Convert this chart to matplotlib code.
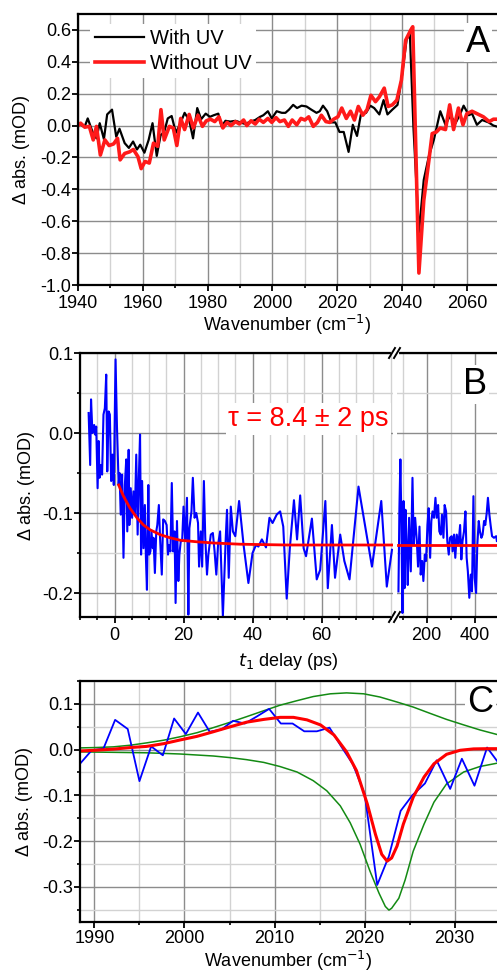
import numpy as np
import matplotlib.pyplot as plt
from matplotlib.ticker import MultipleLocator, FixedLocator

plt.rcParams["font.family"] = ["Liberation Sans", "DejaVu Sans"]
plt.rcParams["axes.unicode_minus"] = False
plt.rcParams["font.size"] = 13

# ---- panel A: spectra with / without UV ----
a_wn_uv = [1939.4, 1940.6, 1942, 1943, 1944.5, 1945.7, 1946.7, 1948, 1949, 1950.5,
           1951.8, 1952.8, 1954.4, 1955.7, 1957, 1958.2, 1959.2, 1960.5, 1961.8, 1963,
           1964.3, 1965.5, 1966.6, 1967.7, 1968.9, 1970.2, 1971.4, 1972.9, 1974.3, 1975.5,
           1976.8, 1978, 1979.4, 1980.7, 1981.9, 1983.3, 1984.3, 1985.5, 1987, 1988.6,
           1990.1, 1991.6, 1993.2, 1994.7, 1996.2, 1997.2, 1998.6, 1999.8, 2001.3, 2002.9,
           2004, 2005.1, 2006.4, 2007.6, 2009, 2010.5, 2012, 2013.6, 2014.6, 2015.6,
           2016.9, 2018.2, 2019.4, 2020.7, 2022, 2023.5, 2024.8, 2026.1, 2027.3, 2028.9,
           2030.2, 2031.4, 2033, 2034.3, 2035.5, 2037, 2038.6, 2040.1, 2041.4, 2042.4,
           2043.5, 2045.2, 2046.7, 2048.3, 2049.8, 2051.8, 2053.4, 2054.9, 2056.5, 2058,
           2059, 2060.6, 2061.6, 2063.1, 2064.7, 2066.7, 2068.2, 2070]
a_with_uv = [-0.01, 0.01, -0.01, 0.045, -0.04, -0.08, 0.015, -0.085, 0.07, 0.1,
             -0.07, -0.02, -0.11, -0.14, -0.1, -0.15, -0.12, -0.17, -0.09, 0.015,
             -0.19, -0.06, -0.04, 0.045, 0.06, -0.045, 0.005, 0.08, 0.035, -0.08,
             0.11, 0.04, 0.075, 0.055, 0.065, 0.075, -0.005, 0.03, 0.025, 0.03,
             0.02, 0.01, 0.025, 0.035, 0.055, 0.065, 0.09, 0.045, 0.09, 0.08,
             0.08, 0.1, 0.13, 0.11, 0.125, 0.12, 0.1, 0.08, 0.09, 0.125,
             0.09, 0.02, 0.02, -0.04, -0.04, -0.165, 0.005, -0.065, 0.07, 0.08,
             0.125, 0.11, 0.07, 0.16, 0.07, 0.1, 0.13, 0.33, 0.54, 0.58,
             -0.005, -0.67, -0.34, -0.19, -0.09, 0.09, 0.005, 0.065, 0.015, 0.075,
             0.125, 0.065, 0.075, 0.005, 0.035, 0.02, 0.0, -0.01]

a_wn_nouv = [1939.4, 1940.8, 1942.1, 1943.5, 1944.7, 1945.7, 1946.9, 1948.3, 1949.6, 1951,
             1952.2, 1953, 1954.4, 1955.9, 1957.1, 1958.5, 1959.5, 1960.7, 1962, 1963.3,
             1964.6, 1965.6, 1966.6, 1968.2, 1969.4, 1970.5, 1971.7, 1972.9, 1974.3, 1975.6,
             1977, 1978.4, 1979.6, 1980.9, 1982.2, 1983.5, 1984.7, 1986, 1987.2, 1988.6,
             1989.8, 1991.1, 1992.1, 1993.4, 1994.7, 1995.9, 1997.2, 1998.6, 1999.8, 2001.1,
             2002.3, 2003.7, 2004.9, 2006.1, 2007.5, 2008.8, 2010, 2011.2, 2012.6, 2013.9,
             2015.1, 2016.5, 2017.7, 2018.9, 2020.2, 2021.4, 2022.8, 2024.1, 2025.3, 2026.5,
             2027.9, 2029.2, 2030.4, 2031.8, 2033, 2034.5, 2035.7, 2037, 2038.4, 2039.8,
             2041.1, 2042.7, 2043.3, 2045.2, 2046.7, 2048.3, 2049.3, 2050.6, 2051.8, 2053.4,
             2054.7, 2055.9, 2057.4, 2058.8, 2060, 2061.6, 2063.1, 2065.1, 2066.9, 2068.2,
             2070]
a_without_uv = [-0.01, 0.015, -0.01, -0.005, -0.09, -0.005, -0.185, -0.09, -0.125, -0.115,
                -0.08, -0.215, -0.175, -0.165, -0.15, -0.195, -0.27, -0.225, -0.235, -0.11,
                -0.13, 0.1, -0.09, -0.005, -0.015, -0.125, 0.045, -0.025, 0.07, -0.015,
                0.065, -0.005, 0.03, 0.04, 0.025, 0.055, -0.015, 0.02, 0.0, 0.025,
                0.01, 0.035, 0.0, 0.03, 0.01, 0.04, 0.02, 0.045, 0.02, 0.05,
                0.025, 0.035, -0.005, 0.035, 0.005, 0.045, 0.035, 0.055, -0.005, 0.02,
                0.065, 0.025, 0.02, 0.04, 0.055, 0.11, 0.045, 0.09, 0.035, 0.12,
                0.065, 0.1, 0.19, 0.15, 0.18, 0.235, 0.12, 0.13, 0.16, 0.285,
                0.535, 0.6, 0.62, -0.925, -0.47, -0.215, -0.05, -0.04, -0.015, -0.025,
                0.13, -0.025, 0.11, 0.005, 0.075, 0.09, 0.075, 0.055, 0.025, 0.04,
                0.04]

# ---- panel B: kinetics ----
b_t = [-7.5, -7.05, -6.8, -6.4, -5.9, -5.6, -5.3, -4.9, -4.6, -4.35,
       -3.9, -3.6, -3.2, -2.8, -2.4, -2.1, -1.7, -1.35, -0.97, -0.6,
       -0.2, 0.3, 0.7, 1.2, 1.45, 1.8, 2.2, 2.6, 3.0, 3.4,
       3.7, 4.1, 4.3, 4.7, 5.1, 5.5, 5.9, 6.3, 6.7, 7.05,
       7.4, 7.7, 8.0, 8.4, 8.8, 9.1, 9.4, 9.8, 10.05, 10.4,
       10.7, 11.1, 11.3, 11.7, 12.1, 12.4, 12.85, 13.2, 13.7, 14.1,
       14.6, 15.1, 15.5, 15.8, 16.2, 16.6, 17.0, 17.4, 17.7, 18.1,
       18.5, 18.8, 19.2, 19.6, 20.0, 20.5, 21.0, 21.4, 21.7, 22.3,
       22.7, 23.2, 23.7, 24.2, 24.5, 25.0, 25.4, 25.9, 26.3, 26.8,
       27.2, 27.9, 28.5, 29.0, 29.5, 30.0, 30.6, 31.4, 32.2, 32.6,
       33.1, 33.7, 34.3, 35.0, 36.1, 37.4, 38.8, 40.0, 41.0, 41.7,
       42.7, 43.9, 44.9, 45.8, 47.0, 48.0, 48.9, 49.9, 50.8, 52.0,
       52.9, 53.8, 54.8, 55.5, 57.2, 58.6, 59.6, 61.1, 61.8, 63.0,
       63.9, 65.4, 66.6, 68.1, 70.7, 74.6, 77.3, 78.9, 80.4]
b_signal = [0.025, -0.04, 0.042, 0.0, 0.01, -0.002, 0.008, -0.069, -0.01, -0.056,
            -0.04, -0.052, 0.023, 0.031, 0.073, -0.048, 0.027, 0.023, -0.06, -0.027,
            -0.065, 0.092, 0.01, -0.065, -0.05, -0.102, -0.052, -0.156, -0.065, -0.033,
            -0.123, -0.021, -0.115, -0.069, -0.106, -0.073, -0.102, -0.027, -0.127, -0.056,
            -0.002, -0.152, -0.06, -0.144, -0.09, -0.156, -0.196, -0.065, -0.152, -0.148,
            -0.123, -0.144, -0.131, -0.175, -0.123, -0.115, -0.09, -0.131, -0.177, -0.108,
            -0.11, -0.115, -0.152, -0.14, -0.148, -0.0625, -0.148, -0.123, -0.2125, -0.11,
            -0.185, -0.152, -0.135, -0.135, -0.092, -0.135, -0.081, -0.227, -0.119, -0.098,
            -0.056, -0.106, -0.1, -0.1125, -0.167, -0.123, -0.167, -0.06, -0.131, -0.177,
            -0.152, -0.127, -0.125, -0.148, -0.177, -0.14, -0.123, -0.229, -0.135, -0.096,
            -0.181, -0.092, -0.123, -0.129, -0.085, -0.14, -0.1875, -0.15, -0.14, -0.142,
            -0.133, -0.143, -0.106, -0.1125, -0.102, -0.098, -0.117, -0.207, -0.144, -0.084,
            -0.133, -0.078, -0.144, -0.154, -0.107, -0.183, -0.171, -0.085, -0.194, -0.115,
            -0.181, -0.127, -0.16, -0.183, -0.067, -0.167, -0.085, -0.192, -0.146]

b_t_late = [83, 87, 91, 95, 99.5, 104, 108, 112, 117, 121.5,
            127, 134, 141, 146, 152, 159, 164, 170, 175, 181,
            186, 192, 197, 203, 208, 214, 219, 224, 230, 236,
            241, 247, 252, 258, 263, 269, 274, 280, 285, 291,
            296, 303, 307, 313, 318, 324, 331, 338, 343, 348,
            354, 360, 365, 370, 376, 382, 387, 393, 398, 404,
            409, 415, 420, 426, 431, 437, 442, 448, 453, 459,
            464, 470, 478, 487, 490]
b_signal_late = [-0.198, -0.094, -0.033, -0.11, -0.225, -0.085, -0.194, -0.096, -0.14, -0.19,
                 -0.106, -0.173, -0.056, -0.14, -0.106, -0.135, -0.167, -0.117, -0.177, -0.16,
                 -0.185, -0.152, -0.16, -0.115, -0.094, -0.156, -0.11, -0.098, -0.106, -0.081,
                 -0.106, -0.09, -0.123, -0.127, -0.102, -0.131, -0.09, -0.098, -0.135, -0.152,
                 -0.131, -0.129, -0.148, -0.127, -0.156, -0.127, -0.14, -0.115, -0.158, -0.135,
                 -0.123, -0.098, -0.156, -0.173, -0.206, -0.177, -0.198, -0.079, -0.181, -0.2,
                 -0.14, -0.11, -0.123, -0.131, -0.127, -0.11, -0.115, -0.1, -0.081, -0.102,
                 -0.115, -0.129, -0.131, -0.129, -0.135]

b_fit_t = [1.2, 2.6, 4.5, 6.5, 8.4, 10.3, 13.2, 16.1, 19.0, 23.9, 28.7, 36.4, 50, 80.4]
b_fit = [-0.065, -0.079, -0.094, -0.106, -0.115, -0.121, -0.127, -0.131, -0.134, -0.136,
         -0.1375, -0.139, -0.14, -0.14]
b_fit_late_t = [83, 490]
b_fit_late = [-0.14, -0.14]

b_major_ticks = [0, 20, 40, 60]

# ---- panel C: spectrum with fit components ----
c_wn = [1988.4, 1989.7, 1991.0, 1992.3, 1993.7, 1995.0, 1996.3, 1997.6, 1998.85, 2000.15,
        2001.5, 2002.8, 2004.1, 2005.4, 2006.7, 2008.0, 2009.4, 2010.7, 2012.0, 2013.3,
        2014.7, 2016.1, 2017.4, 2018.7, 2020.0, 2021.4, 2022.7, 2024.0, 2025.3, 2026.7,
        2028.0, 2029.5, 2030.8, 2032.2, 2033.6, 2034.9]
c_signal = [-0.031, -0.0015, 0.002, 0.065, 0.045, -0.069, 0.007, -0.0125, 0.068, 0.034,
            0.081, 0.039, 0.044, 0.063, 0.057, 0.072, 0.089, 0.057, 0.057, 0.04,
            0.04, 0.048, 0.007, -0.032, -0.097, -0.296, -0.233, -0.134, -0.1, -0.074,
            -0.0235, -0.086, -0.02, -0.079, 0.0045, -0.03]

c_fit_wn = [1988.4, 1990, 1992.1, 1994, 1995.8, 1997.7, 1999.5, 2001.4, 2003.2, 2005.1,
            2006.9, 2008.8, 2010.6, 2012.1, 2013.6, 2015.1, 2016.6, 2018.0, 2019.1, 2020.3,
            2021.2, 2021.9, 2022.5, 2023.0, 2023.6, 2024.3, 2025.4, 2026.6, 2027.7, 2029.1,
            2030.6, 2032.1, 2033.6, 2034.9]
c_fit = [-0.003, -0.0015, 0.001, 0.0045, 0.007, 0.013, 0.021, 0.029, 0.039, 0.05,
         0.06, 0.066, 0.0705, 0.0705, 0.065, 0.054, 0.032, -0.005, -0.046, -0.119,
         -0.185, -0.229, -0.244, -0.237, -0.211, -0.163, -0.104, -0.06, -0.031, -0.0103,
         -0.0015, 0.0015, 0.002, 0.002]

c_pos_wn = [1988.4, 1990, 1992.1, 1994, 1995.8, 1997.7, 1999.5, 2001.4, 2003.2, 2005.1,
            2006.9, 2008.8, 2010.6, 2012.5, 2014.3, 2016.2, 2018.0, 2019.9, 2021.7, 2023.6,
            2025.4, 2027.3, 2029.1, 2031.0, 2032.8, 2034.9]
c_pos = [0.0037, 0.0044, 0.006, 0.0096, 0.0147, 0.0206, 0.028, 0.037, 0.048, 0.06,
         0.072, 0.085, 0.097, 0.107, 0.116, 0.122, 0.124, 0.122, 0.115, 0.104,
         0.093, 0.079, 0.066, 0.054, 0.043, 0.032]

c_neg_wn = [1988.4, 1992.1, 1995.8, 1999.5, 2003.2, 2005.1, 2006.9, 2008.8, 2010.6, 2012.5,
            2014.3, 2015.8, 2017.3, 2018.4, 2019.5, 2020.6, 2021.6, 2022.3, 2022.7, 2023.0,
            2023.8, 2024.5, 2025.4, 2026.6, 2027.7, 2029.1, 2031.0, 2032.8, 2034.9]
c_neg = [-0.005, -0.006, -0.007, -0.0096, -0.014, -0.0176, -0.022, -0.028, -0.037, -0.049,
         -0.068, -0.09, -0.123, -0.16, -0.207, -0.266, -0.314, -0.343, -0.351, -0.347,
         -0.325, -0.285, -0.222, -0.163, -0.115, -0.075, -0.049, -0.037, -0.029]

MAJ = "#8c8c8c"
MIN = "#d2d2d2"


def style(ax, left=True):
    ax.grid(True, which="major", color=MAJ, lw=1.0)
    ax.grid(True, which="minor", color=MIN, lw=1.0)
    ax.set_axisbelow(True)
    for s in ["top", "bottom", "left"]:
        ax.spines[s].set_linewidth(1.6)
    ax.spines["right"].set_visible(False)
    if not left:
        ax.spines["left"].set_visible(False)
    ax.tick_params(which="major", direction="out", length=4, width=1.3,
                   labelsize=13, top=False, right=False, left=left, labelleft=left)
    ax.tick_params(which="minor", direction="out", length=2.5, width=1.2,
                   top=False, right=False, left=left)
    ax.tick_params(axis="x", which="major", pad=3)
    ax.tick_params(axis="y", which="major", pad=1)


def letter(ax, s, x, y):
    ax.text(x, y, s, transform=ax.transAxes, fontsize=26, ha="center", va="center",
            bbox=dict(facecolor="white", edgecolor="none", pad=1.5), zorder=5)


fig = plt.figure(figsize=(4.97, 9.72), dpi=100)
W, H = 497.0, 972.0

# Panel A
axA = fig.add_axes([78 / W, 1 - 285 / H, 1 - 78 / W, (285 - 14) / H])
axA.plot(a_wn_uv, a_with_uv, color="black", lw=1.6, label="With UV")
axA.plot(a_wn_nouv, a_without_uv, color="#ff1a1a", lw=2.6, label="Without UV")
axA.set_xlim(1940, 2069.3)
axA.set_ylim(-1.0, 0.7)
axA.xaxis.set_major_locator(MultipleLocator(20))
axA.xaxis.set_minor_locator(MultipleLocator(10))
axA.yaxis.set_major_locator(MultipleLocator(0.2))
axA.yaxis.set_major_formatter(plt.FormatStrFormatter("%.1f"))
style(axA)
axA.grid(False, which="minor", axis="y")
axA.set_ylabel("Δ abs. (mOD)")
axA.yaxis.set_label_coords(-0.115, 0.5)
leg = axA.legend(loc="upper left", bbox_to_anchor=(0.005, 1.0), frameon=True,
                 fancybox=False, edgecolor="none", framealpha=1, fontsize=14.5,
                 handlelength=2.4, handletextpad=0.3, borderpad=0.25, labelspacing=0.3)
letter(axA, "A", 0.955, 0.895)
fig.text(287.5 / W, 1 - 325 / H, "Wavenumber (cm$^{-1}$)", ha="center", va="center",
         fontsize=13)

# Panel B (broken x axis)
axB = fig.add_axes([80 / W, 1 - 617 / H, (393 - 80) / W, (617 - 353) / H])
axB2 = fig.add_axes([397 / W, 1 - 617 / H, 1 - 397 / W, (617 - 353) / H])
axB.plot(b_t, b_signal, color="#0000ff", lw=1.5)
axB.plot(b_fit_t, b_fit, color="#ff0000", lw=2.0)
axB2.plot(b_t_late, b_signal_late, color="#0000ff", lw=1.5)
axB2.plot(b_fit_late_t, b_fit_late, color="#ff0000", lw=2.0)
for ax in (axB, axB2):
    ax.set_ylim(-0.23, 0.1)
    ax.yaxis.set_major_locator(MultipleLocator(0.1))
    ax.yaxis.set_minor_locator(MultipleLocator(0.05))
    ax.yaxis.set_major_formatter(plt.FormatStrFormatter("%.1f"))
axB.set_xlim(-10, 80.7)
axB.xaxis.set_major_locator(FixedLocator(b_major_ticks))
axB.xaxis.set_minor_locator(MultipleLocator(5))
axB2.set_xlim(77, 490.5)
axB2.xaxis.set_major_locator(MultipleLocator(200))
axB2.xaxis.set_minor_locator(MultipleLocator(100))
style(axB)
style(axB2, left=False)
axB.set_ylabel("Δ abs. (mOD)")
axB.yaxis.set_label_coords(-0.144, 0.5)
axB.text(0.73, 0.75, "τ = 8.4 ± 2 ps", transform=axB.transAxes, color="#ff0000",
         fontsize=19.5, ha="center", va="center",
         bbox=dict(facecolor="white", edgecolor="none", pad=2), zorder=5)
letter(axB2, "B", 0.78, 0.88)
fig.text(288 / W, 1 - 662 / H, "$t_1$ delay (ps)", ha="center", va="center", fontsize=13)
# break marks
for yb in (353, 617):
    fig.add_artist(plt.Line2D([393 / W, 397 / W], [1 - yb / H, 1 - yb / H],
                              color="white", lw=3))
    for xb in (389, 394):
        fig.add_artist(plt.Line2D([xb / W, (xb + 6) / W], [1 - (yb + 5) / H, 1 - (yb - 5) / H],
                                  color="black", lw=1.4))

# Panel C
axC = fig.add_axes([80 / W, 1 - 922 / H, 1 - 80 / W, (922 - 681) / H])
axC.plot(c_pos_wn, c_pos, color="#138a13", lw=1.1)
axC.plot(c_neg_wn, c_neg, color="#138a13", lw=1.1)
axC.plot(c_wn, c_signal, color="#0000ff", lw=1.3)
axC.plot(c_fit_wn, c_fit, color="#ff0000", lw=2.2)
axC.set_xlim(1988.4, 2034.7)
axC.set_ylim(-0.377, 0.15)
axC.xaxis.set_major_locator(MultipleLocator(10))
axC.xaxis.set_minor_locator(MultipleLocator(5))
axC.yaxis.set_major_locator(MultipleLocator(0.1))
axC.yaxis.set_minor_locator(MultipleLocator(0.05))
axC.yaxis.set_major_formatter(plt.FormatStrFormatter("%.1f"))
style(axC)
axC.tick_params(axis="x", which="major", pad=2)
axC.set_ylabel("Δ abs. (mOD)")
axC.yaxis.set_label_coords(-0.113, 0.5)
letter(axC, "C", 0.96, 0.91)
fig.text(288 / W, 1 - 967 / H, "Wavenumber (cm$^{-1}$)", ha="center", va="baseline",
         fontsize=13)

fig.savefig("out.png", dpi=100)
